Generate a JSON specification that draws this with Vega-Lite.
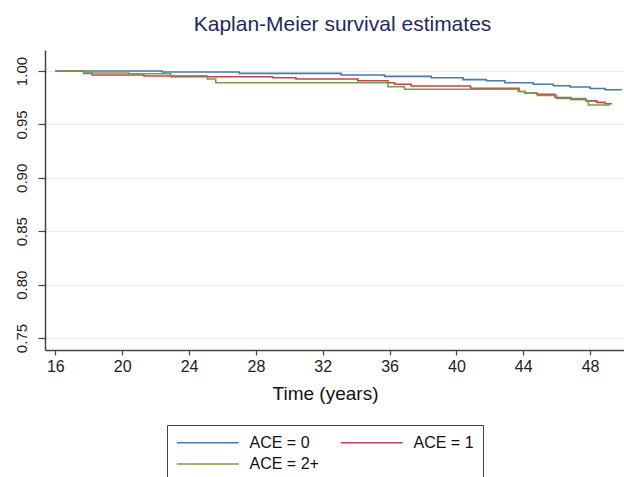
{
  "$schema": "https://vega.github.io/schema/vega-lite/v6.json",
  "width": 579,
  "height": 300,
  "autosize": {"type": "none"},
  "padding": {"left": 45, "top": 50, "right": 0, "bottom": 127},
  "background": "white",
  "config": {
    "font": "Liberation Sans",
    "view": {"stroke": null},
    "axis": {"domainColor": "#444", "domainWidth": 1.5, "tickColor": "#444", "tickWidth": 1.2, "labelColor": "#222", "titleColor": "#111", "gridColor": "#e6eff0", "gridWidth": 1}
  },
  "title": {
    "text": "Kaplan-Meier survival estimates",
    "fontSize": 21,
    "fontWeight": "normal",
    "color": "#1f2a5a",
    "anchor": "middle",
    "dx": 8,
    "offset": 15
  },
  "data": {
    "values": [
      {"group": "ACE = 0", "t": 16, "s": 1.0},
      {"group": "ACE = 0", "t": 22.4, "s": 0.9991},
      {"group": "ACE = 0", "t": 27, "s": 0.9978},
      {"group": "ACE = 0", "t": 33.1, "s": 0.9963},
      {"group": "ACE = 0", "t": 35.7, "s": 0.995},
      {"group": "ACE = 0", "t": 38.5, "s": 0.9937},
      {"group": "ACE = 0", "t": 40.4, "s": 0.992},
      {"group": "ACE = 0", "t": 41.8, "s": 0.9909},
      {"group": "ACE = 0", "t": 42.9, "s": 0.989},
      {"group": "ACE = 0", "t": 44.6, "s": 0.9876},
      {"group": "ACE = 0", "t": 45.8, "s": 0.9862},
      {"group": "ACE = 0", "t": 46.8, "s": 0.985},
      {"group": "ACE = 0", "t": 48, "s": 0.9836},
      {"group": "ACE = 0", "t": 48.9, "s": 0.9825},
      {"group": "ACE = 0", "t": 49.9, "s": 0.9825},
      {"group": "ACE = 1", "t": 16, "s": 1.0},
      {"group": "ACE = 1", "t": 17.7, "s": 0.9978},
      {"group": "ACE = 1", "t": 18.2, "s": 0.9963},
      {"group": "ACE = 1", "t": 21.3, "s": 0.9953},
      {"group": "ACE = 1", "t": 22.9, "s": 0.9947},
      {"group": "ACE = 1", "t": 29, "s": 0.9937},
      {"group": "ACE = 1", "t": 30.4, "s": 0.9925},
      {"group": "ACE = 1", "t": 34.1, "s": 0.9909},
      {"group": "ACE = 1", "t": 35.9, "s": 0.989},
      {"group": "ACE = 1", "t": 36.3, "s": 0.9876},
      {"group": "ACE = 1", "t": 37.3, "s": 0.986},
      {"group": "ACE = 1", "t": 40.85, "s": 0.9838},
      {"group": "ACE = 1", "t": 43.75, "s": 0.9808},
      {"group": "ACE = 1", "t": 44.1, "s": 0.9794},
      {"group": "ACE = 1", "t": 44.8, "s": 0.9782},
      {"group": "ACE = 1", "t": 45.9, "s": 0.9752},
      {"group": "ACE = 1", "t": 46.85, "s": 0.9733},
      {"group": "ACE = 1", "t": 47.75, "s": 0.9721},
      {"group": "ACE = 1", "t": 48.4, "s": 0.9707},
      {"group": "ACE = 1", "t": 48.9, "s": 0.9694},
      {"group": "ACE = 1", "t": 49.3, "s": 0.9694},
      {"group": "ACE = 2+", "t": 16, "s": 1.0},
      {"group": "ACE = 2+", "t": 17.7, "s": 0.9981},
      {"group": "ACE = 2+", "t": 20.4, "s": 0.9975},
      {"group": "ACE = 2+", "t": 22.9, "s": 0.9956},
      {"group": "ACE = 2+", "t": 25.1, "s": 0.9925},
      {"group": "ACE = 2+", "t": 25.6, "s": 0.989},
      {"group": "ACE = 2+", "t": 35.9, "s": 0.9853},
      {"group": "ACE = 2+", "t": 36.9, "s": 0.9829},
      {"group": "ACE = 2+", "t": 43.7, "s": 0.9808},
      {"group": "ACE = 2+", "t": 44.1, "s": 0.9794},
      {"group": "ACE = 2+", "t": 44.85, "s": 0.9771},
      {"group": "ACE = 2+", "t": 46, "s": 0.9743},
      {"group": "ACE = 2+", "t": 47.75, "s": 0.9719},
      {"group": "ACE = 2+", "t": 47.9, "s": 0.9682},
      {"group": "ACE = 2+", "t": 49.2, "s": 0.9682}
    ]
  },
  "mark": {"type": "line", "interpolate": "step-after", "strokeWidth": 1.6},
  "encoding": {
    "x": {
      "field": "t",
      "type": "quantitative",
      "scale": {"domain": [15.38, 50.03], "nice": false, "zero": false},
      "axis": {
        "values": [16, 20, 24, 28, 32, 36, 40, 44, 48],
        "grid": false,
        "title": "Time (years)",
        "titleFontSize": 19,
        "titleFontWeight": "normal",
        "titlePadding": 10,
        "titleX": 280,
        "labelFontSize": 16,
        "tickSize": 5,
        "labelPadding": 3
      }
    },
    "y": {
      "field": "s",
      "type": "quantitative",
      "scale": {"domain": [0.7388, 1.0197], "nice": false, "zero": false},
      "axis": {
        "values": [0.75, 0.8, 0.85, 0.9, 0.95, 1.0],
        "format": ".2f",
        "grid": true,
        "title": null,
        "labelAngle": 270,
        "labelFontSize": 15,
        "tickSize": 7,
        "labelPadding": 9
      }
    },
    "color": {
      "field": "group",
      "type": "nominal",
      "scale": {"domain": ["ACE = 0", "ACE = 1", "ACE = 2+"], "range": ["#4a78b0", "#c4434f", "#749f4a"]},
      "legend": {
        "title": null,
        "orient": "none",
        "legendX": 122,
        "legendY": 375,
        "direction": "horizontal",
        "columns": 2,
        "symbolType": "M-1,0H7",
        "symbolSize": 240,
        "symbolStrokeWidth": 1.5,
        "labelFontSize": 16,
        "labelColor": "#111",
        "labelOffset": 56.5,
        "columnPadding": 18,
        "rowPadding": 4.6,
        "padding": 9,
        "strokeColor": "#444"
      }
    }
  }
}
